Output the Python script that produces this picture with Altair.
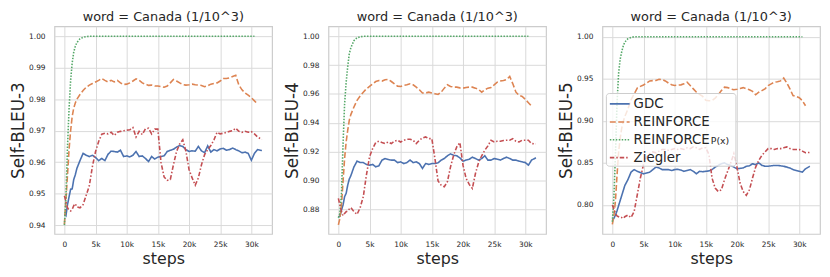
import altair as alt
import pandas as pd

# ---------------- data ----------------
STEPS = [0, 250, 500, 750, 1000, 1250, 1500, 1750, 2000, 2500, 3000, 3500, 4000, 4500,
         5000, 5500, 6000, 6500, 7000, 7500, 8000, 8500, 9000, 9500, 10000, 10500, 11000,
         11500, 12000, 12500, 13000, 13500, 14000, 14500, 15000, 15500, 16000, 16500,
         17000, 17500, 18000, 18500, 19000, 19500, 20000, 20500, 21000, 21500, 22000,
         22500, 23000, 23500, 24000, 24500, 25000, 25500, 26000, 26500, 27000, 27500,
         28000, 28500, 29000, 29500, 30000, 30500, 31000, 31700]

SERIES = ["GDC", "REINFORCE", "REINFORCE_P(x)", "Ziegler"]
COLORS = ["#4C72B0", "#DD8452", "#55A868", "#C44E52"]
DASHES = [[1, 0], [6, 2.5], [1.5, 1.5], [4.5, 2, 1.5, 2]]

X_TICKS = [0, 5000, 10000, 15000, 20000, 25000, 30000]

# ---- panel 1 : Self-BLEU-3 ----
P1_GDC = [0.9435, 0.9430, 0.9465, 0.9490, 0.9514, 0.9515, 0.9545, 0.9560, 0.9580, 0.9605,
          0.9628, 0.9622, 0.9618, 0.9622, 0.9615, 0.9605, 0.9612, 0.9605, 0.9625, 0.9635,
          0.9634, 0.9632, 0.9638, 0.9618, 0.9620, 0.9617, 0.9622, 0.9634, 0.9618, 0.9620,
          0.9612, 0.9602, 0.9618, 0.9610, 0.9616, 0.9618, 0.9620, 0.9634, 0.9638, 0.9641,
          0.9648, 0.9653, 0.9650, 0.9640, 0.9634, 0.9636, 0.9635, 0.9650, 0.9636, 0.9630,
          0.9652, 0.9632, 0.9640, 0.9636, 0.9642, 0.9644, 0.9638, 0.9640, 0.9645, 0.9640,
          0.9636, 0.9630, 0.9632, 0.9628, 0.9606, 0.9628, 0.9640, 0.9637]
P1_REINFORCE = [0.9403, 0.9480, 0.9560, 0.9640, 0.9700, 0.9745, 0.9772, 0.9788, 0.9800, 0.9815,
                0.9828, 0.9838, 0.9845, 0.9850, 0.9855, 0.9860, 0.9866, 0.9860, 0.9855, 0.9860,
                0.9855, 0.9860, 0.9852, 0.9847, 0.9848, 0.9852, 0.9858, 0.9865, 0.9860, 0.9852,
                0.9848, 0.9844, 0.9845, 0.9842, 0.9842, 0.9840, 0.9838, 0.9842, 0.9852, 0.9863,
                0.9858, 0.9852, 0.9847, 0.9845, 0.9846, 0.9848, 0.9846, 0.9845, 0.9844, 0.9840,
                0.9843, 0.9848, 0.9850, 0.9852, 0.9858, 0.9866, 0.9866, 0.9868, 0.9872, 0.9876,
                0.9845, 0.9830, 0.9820, 0.9813, 0.9805, 0.9795, 0.9785]
P1_REINFORCE_PX = [0.9400, 0.9490, 0.9650, 0.9770, 0.9860, 0.9915, 0.9950, 0.9968, 0.9980, 0.9992,
                   0.9997, 0.9999, 1.0, 1.0, 1.0, 1.0, 1.0, 1.0, 1.0, 1.0,
                   1.0, 1.0, 1.0, 1.0, 1.0, 1.0, 1.0, 1.0, 1.0, 1.0,
                   1.0, 1.0, 1.0, 1.0, 1.0, 1.0, 1.0, 1.0, 1.0, 1.0,
                   1.0, 1.0, 1.0, 1.0, 1.0, 1.0, 1.0, 1.0, 1.0, 1.0,
                   1.0, 1.0, 1.0, 1.0, 1.0, 1.0, 1.0, 1.0, 1.0, 1.0,
                   1.0, 1.0, 1.0, 1.0, 1.0, 1.0]
P1_ZIEGLER = [0.9493, 0.9475, 0.9455, 0.9448, 0.9445, 0.9450, 0.9462, 0.9468, 0.9458, 0.9455,
              0.9465, 0.9495, 0.9525, 0.9587, 0.9634, 0.9666, 0.9689, 0.9692, 0.9690, 0.9695,
              0.9685, 0.9695, 0.9698, 0.9700, 0.9702, 0.9703, 0.9710, 0.9680, 0.9698, 0.9688,
              0.9706, 0.9708, 0.9690, 0.9705, 0.9705, 0.9600, 0.9553, 0.9542, 0.9545, 0.9592,
              0.9634, 0.9658, 0.9671, 0.9635, 0.9577, 0.9550, 0.9527, 0.9550, 0.9592, 0.9624,
              0.9640, 0.9653, 0.9671, 0.9695, 0.9690, 0.9692, 0.9695, 0.9698, 0.9700, 0.9708,
              0.9698, 0.9695, 0.9698, 0.9695, 0.9697, 0.9690, 0.9680, 0.9672]

# ---- panel 2 : Self-BLEU-4 ----
P2_GDC = [0.8747, 0.8750, 0.8793, 0.8828, 0.8886, 0.8909, 0.8966, 0.9008, 0.9031, 0.9093,
          0.9133, 0.9123, 0.9123, 0.9110, 0.9105, 0.9110, 0.9093, 0.9100, 0.9140, 0.9151,
          0.9144, 0.9140, 0.9140, 0.9123, 0.9128, 0.9116, 0.9123, 0.9140, 0.9123, 0.9128,
          0.9116, 0.9082, 0.9116, 0.9110, 0.9116, 0.9116, 0.9121, 0.9140, 0.9151, 0.9170,
          0.9183, 0.9174, 0.9170, 0.9156, 0.9133, 0.9140, 0.9146, 0.9160, 0.9151, 0.9140,
          0.9151, 0.9170, 0.9140, 0.9140, 0.9151, 0.9146, 0.9140, 0.9151, 0.9160, 0.9151,
          0.9140, 0.9140, 0.9133, 0.9128, 0.9123, 0.9105, 0.9140, 0.9156]
P2_REINFORCE = [0.8690, 0.8736, 0.8828, 0.8990, 0.9151, 0.9266, 0.9347, 0.9416, 0.9456, 0.9509,
                0.9555, 0.9585, 0.9612, 0.9635, 0.9652, 0.9670, 0.9686, 0.9693, 0.9689, 0.9698,
                0.9700, 0.9686, 0.9670, 0.9654, 0.9652, 0.9659, 0.9663, 0.9670, 0.9663, 0.9647,
                0.9629, 0.9606, 0.9606, 0.9612, 0.9606, 0.9601, 0.9596, 0.9612, 0.9640, 0.9663,
                0.9652, 0.9647, 0.9647, 0.9642, 0.9640, 0.9645, 0.9647, 0.9647, 0.9640, 0.9631,
                0.9612, 0.9629, 0.9640, 0.9645, 0.9663, 0.9682, 0.9689, 0.9693, 0.9700, 0.9721,
                0.9670, 0.9612, 0.9589, 0.9582, 0.9562, 0.9539, 0.9515]
P2_REINFORCE_PX = [0.8740, 0.8770, 0.8910, 0.9250, 0.9530, 0.9680, 0.9790, 0.9878, 0.9920, 0.9970,
                   0.9990, 0.9997, 1.0, 1.0, 1.0, 1.0, 1.0, 1.0, 1.0, 1.0,
                   1.0, 1.0, 1.0, 1.0, 1.0, 1.0, 1.0, 1.0, 1.0, 1.0,
                   1.0, 1.0, 1.0, 1.0, 1.0, 1.0, 1.0, 1.0, 1.0, 1.0,
                   1.0, 1.0, 1.0, 1.0, 1.0, 1.0, 1.0, 1.0, 1.0, 1.0,
                   1.0, 1.0, 1.0, 1.0, 1.0, 1.0, 1.0, 1.0, 1.0, 1.0,
                   1.0, 1.0, 1.0, 1.0, 1.0, 1.0]
P2_ZIEGLER = [0.8874, 0.8828, 0.8782, 0.8754, 0.8770, 0.8782, 0.8786, 0.8800, 0.8810, 0.8782,
              0.8763, 0.8810, 0.8886, 0.9036, 0.9163, 0.9220, 0.9262, 0.9271, 0.9262, 0.9255,
              0.9266, 0.9255, 0.9271, 0.9278, 0.9266, 0.9278, 0.9285, 0.9285, 0.9278, 0.9255,
              0.9278, 0.9294, 0.9301, 0.9289, 0.9289, 0.9150, 0.8995, 0.8966, 0.8955, 0.8990,
              0.9093, 0.9174, 0.9232, 0.9262, 0.9105, 0.9013, 0.8971, 0.8943, 0.9047, 0.9123,
              0.9170, 0.9209, 0.9239, 0.9278, 0.9266, 0.9271, 0.9271, 0.9276, 0.9278, 0.9278,
              0.9289, 0.9271, 0.9266, 0.9278, 0.9278, 0.9278, 0.9255, 0.9253]

# ---- panel 3 : Self-BLEU-5 ----
P3_GDC = [0.7820, 0.7840, 0.7880, 0.7930, 0.7990, 0.8050, 0.8110, 0.8170, 0.8230, 0.8300,
          0.8390, 0.8420, 0.8400, 0.8385, 0.8370, 0.8380, 0.8390, 0.8420, 0.8450, 0.8440,
          0.8420, 0.8420, 0.8420, 0.8410, 0.8420, 0.8425, 0.8415, 0.8400, 0.8410, 0.8420,
          0.8400, 0.8370, 0.8400, 0.8395, 0.8400, 0.8405, 0.8420, 0.8450, 0.8470, 0.8490,
          0.8500, 0.8480, 0.8470, 0.8450, 0.8430, 0.8435, 0.8440, 0.8460, 0.8465, 0.8490,
          0.8480, 0.8500, 0.8470, 0.8460, 0.8460, 0.8465, 0.8470, 0.8470, 0.8465, 0.8460,
          0.8450, 0.8440, 0.8420, 0.8410, 0.8400, 0.8390, 0.8430, 0.8460]
P3_REINFORCE = [0.7770, 0.7870, 0.8050, 0.8350, 0.8620, 0.8790, 0.8910, 0.8990, 0.9050, 0.9140,
                0.9250, 0.9320, 0.9390, 0.9410, 0.9427, 0.9450, 0.9475, 0.9478, 0.9480, 0.9495,
                0.9490, 0.9475, 0.9450, 0.9430, 0.9420, 0.9425, 0.9428, 0.9440, 0.9459, 0.9420,
                0.9380, 0.9340, 0.9315, 0.9290, 0.9245, 0.9240, 0.9240, 0.9270, 0.9310, 0.9360,
                0.9400, 0.9395, 0.9380, 0.9370, 0.9375, 0.9385, 0.9395, 0.9380, 0.9370, 0.9350,
                0.9310, 0.9340, 0.9360, 0.9380, 0.9420, 0.9440, 0.9460, 0.9465, 0.9475, 0.9510,
                0.9450, 0.9380, 0.9300, 0.9290, 0.9275, 0.9240, 0.9180]
P3_REINFORCE_PX = [0.7800, 0.8090, 0.8600, 0.9200, 0.9560, 0.9730, 0.9820, 0.9890, 0.9937, 0.9976,
                   0.9992, 1.0, 1.0, 1.0, 1.0, 1.0, 1.0, 1.0, 1.0, 1.0,
                   1.0, 1.0, 1.0, 1.0, 1.0, 1.0, 1.0, 1.0, 1.0, 1.0,
                   1.0, 1.0, 1.0, 1.0, 1.0, 1.0, 1.0, 1.0, 1.0, 1.0,
                   1.0, 1.0, 1.0, 1.0, 1.0, 1.0, 1.0, 1.0, 1.0, 1.0,
                   1.0, 1.0, 1.0, 1.0, 1.0, 1.0, 1.0, 1.0, 1.0, 1.0,
                   1.0, 1.0, 1.0, 1.0, 1.0, 1.0]
P3_ZIEGLER = [0.8000, 0.7950, 0.7900, 0.7870, 0.7860, 0.7850, 0.7850, 0.7840, 0.7860, 0.7880,
              0.7850, 0.7920, 0.8120, 0.8320, 0.8480, 0.8570, 0.8610, 0.8630, 0.8620, 0.8640,
              0.8660, 0.8660, 0.8650, 0.8660, 0.8670, 0.8660, 0.8670, 0.8660, 0.8680, 0.8670,
              0.8690, 0.8680, 0.8660, 0.8680, 0.8680, 0.8600, 0.8320, 0.8200, 0.8160, 0.8180,
              0.8300, 0.8400, 0.8500, 0.8610, 0.8450, 0.8260, 0.8160, 0.8115, 0.8180, 0.8320,
              0.8450, 0.8530, 0.8590, 0.8630, 0.8670, 0.8670, 0.8660, 0.8670, 0.8670, 0.8680,
              0.8690, 0.8670, 0.8660, 0.8660, 0.8660, 0.8640, 0.8620, 0.8625]

PANELS = [
    ("Self-BLEU-3", [P1_GDC, P1_REINFORCE, P1_REINFORCE_PX, P1_ZIEGLER],
     [0.9372, 1.0032], [0.94, 0.95, 0.96, 0.97, 0.98, 0.99, 1.00]),
    ("Self-BLEU-4", [P2_GDC, P2_REINFORCE, P2_REINFORCE_PX, P2_ZIEGLER],
     [0.8627, 1.0070], [0.88, 0.90, 0.92, 0.94, 0.96, 0.98, 1.00]),
    ("Self-BLEU-5", [P3_GDC, P3_REINFORCE, P3_REINFORCE_PX, P3_ZIEGLER],
     [0.7655, 1.0125], [0.80, 0.85, 0.90, 0.95, 1.00]),
]

TITLE = "word = Canada (1/10^3)"
LEGEND_LABELS = ["GDC", "REINFORCE", "REINFORCE", "Ziegler"]
FONT = "DejaVu Sans"
TEXT_COLOR = "#262626"


def make_frame(series_values):
    rows = []
    for name, vals in zip(SERIES, series_values):
        for s, v in zip(STEPS, vals):
            rows.append({"step": s, "value": v, "series": name})
    return pd.DataFrame(rows)


def make_panel(ylabel, series_values, ydomain, yticks, with_legend):
    df = make_frame(series_values)
    lines = alt.Chart(df).mark_line(strokeWidth=1.6, clip=True).encode(
        x=alt.X("step:Q",
                scale=alt.Scale(domain=[-1590, 33330], nice=False, zero=False),
                axis=alt.Axis(values=X_TICKS, title="steps",
                              labelExpr="datum.value == 0 ? '0' : (datum.value / 1000) + 'k'")),
        y=alt.Y("value:Q",
                scale=alt.Scale(domain=ydomain, nice=False, zero=False),
                axis=alt.Axis(values=yticks, format=".2f", title=ylabel)),
        color=alt.Color("series:N", scale=alt.Scale(domain=SERIES, range=COLORS), legend=None),
        strokeDash=alt.StrokeDash("series:N", scale=alt.Scale(domain=SERIES, range=DASHES),
                                  legend=None),
        order=alt.Order("step:Q"),
    )
    layers = [lines]
    if with_legend:
        one = pd.DataFrame({"k": [0]})
        layers.append(alt.Chart(one).mark_rect(
            fill="white", fillOpacity=0.8, stroke="#cccccc", strokeWidth=1, cornerRadius=3
        ).encode(x=alt.value(4), x2=alt.value(135), y=alt.value(68), y2=alt.value(141.5)))
        row_y = [78.5, 96.8, 114.8, 132.8]
        for i in range(4):
            layers.append(alt.Chart(one).mark_rule(
                color=COLORS[i], strokeDash=DASHES[i], strokeWidth=1.6
            ).encode(x=alt.value(7.5), x2=alt.value(27.5), y=alt.value(row_y[i])))
            layers.append(alt.Chart(one).mark_text(
                align="left", baseline="middle", font=FONT, fontSize=13.5, color=TEXT_COLOR
            ).encode(x=alt.value(31.5), y=alt.value(row_y[i]), text=alt.value(LEGEND_LABELS[i])))
        layers.append(alt.Chart(one).mark_text(
            align="left", baseline="alphabetic", font=FONT, fontSize=9.5, color=TEXT_COLOR
        ).encode(x=alt.value(109.5), y=alt.value(119.5), text=alt.value("P(x)")))
    return alt.layer(*layers).properties(
        width=220, height=210,
        title=alt.TitleParams(TITLE, font=FONT, fontSize=13, fontWeight="normal",
                              color=TEXT_COLOR, offset=2, anchor="middle"),
    )


panels = [make_panel(lbl, vals, dom, ticks, i == 2)
          for i, (lbl, vals, dom, ticks) in enumerate(PANELS)]

chart = alt.hconcat(*panels, spacing=10).properties(
    padding={"left": 1, "top": 1, "right": 1, "bottom": 1}
).configure_view(
    stroke="#cccccc", strokeWidth=1.2
).configure_axis(
    grid=True, gridColor="#dadada", gridWidth=1,
    domain=False, ticks=False,
    labelFont=FONT, labelFontSize=7.5, labelColor=TEXT_COLOR,
    titleFont=FONT, titleFontWeight="normal", titleColor=TEXT_COLOR,
).configure_axisY(
    labelPadding=9.5, titlePadding=1, titleFontSize=17,
).configure_axisX(
    labelPadding=7, titlePadding=2, titleFontSize=16,
)

chart.save("out.html", embed_options={"renderer": "svg", "actions": False})
